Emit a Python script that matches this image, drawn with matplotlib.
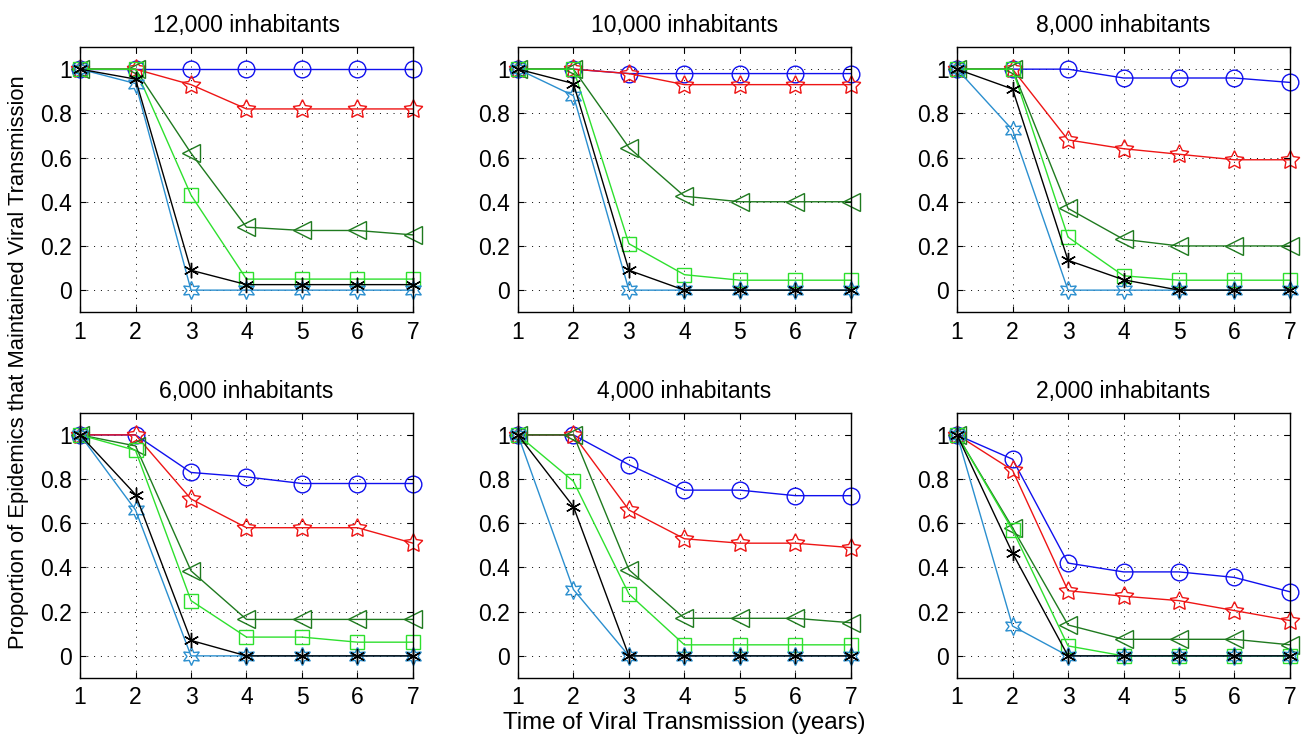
import matplotlib
matplotlib.use("Agg")
import matplotlib.pyplot as plt
import numpy as np

plt.rcParams['font.family'] = ['Liberation Sans', 'DejaVu Sans']

years = [1, 2, 3, 4, 5, 6, 7]
titles = ["12,000 inhabitants", "10,000 inhabitants", "8,000 inhabitants",
          "6,000 inhabitants", "4,000 inhabitants", "2,000 inhabitants"]

# one list per population size, series order: blue, red, dark green, lime, light blue, black
blue = [
    [1, 1, 1, 1, 1, 1, 1],
    [1, 1, 0.98, 0.98, 0.98, 0.98, 0.98],
    [1, 1, 1, 0.96, 0.96, 0.96, 0.94],
    [1, 1, 0.83, 0.81, 0.78, 0.78, 0.78],
    [1, 1, 0.865, 0.75, 0.75, 0.725, 0.725],
    [1, 0.89, 0.42, 0.38, 0.38, 0.355, 0.29],
]
red = [
    [1, 1, 0.93, 0.82, 0.82, 0.82, 0.82],
    [1, 1, 0.98, 0.93, 0.93, 0.93, 0.93],
    [1, 1, 0.68, 0.64, 0.615, 0.59, 0.59],
    [1, 1, 0.71, 0.58, 0.58, 0.58, 0.51],
    [1, 1, 0.66, 0.53, 0.51, 0.51, 0.49],
    [1, 0.84, 0.295, 0.27, 0.25, 0.205, 0.16],
]
dkgreen = [
    [1, 1, 0.62, 0.285, 0.27, 0.27, 0.25],
    [1, 1, 0.645, 0.425, 0.40, 0.40, 0.40],
    [1, 1, 0.37, 0.23, 0.20, 0.20, 0.20],
    [1, 0.95, 0.385, 0.165, 0.165, 0.165, 0.165],
    [1, 1, 0.39, 0.17, 0.17, 0.17, 0.15],
    [1, 0.58, 0.14, 0.075, 0.075, 0.075, 0.05],
]
lime = [
    [1, 1, 0.43, 0.05, 0.05, 0.05, 0.05],
    [1, 1, 0.21, 0.07, 0.045, 0.045, 0.045],
    [1, 1, 0.24, 0.065, 0.045, 0.045, 0.045],
    [1, 0.93, 0.25, 0.085, 0.085, 0.062, 0.062],
    [1, 0.79, 0.28, 0.05, 0.05, 0.05, 0.05],
    [1, 0.57, 0.045, 0, 0, 0, 0],
]
ltblue = [
    [1, 0.935, 0, 0, 0, 0, 0],
    [1, 0.88, 0, 0, 0, 0, 0],
    [1, 0.725, 0, 0, 0, 0, 0],
    [1, 0.66, 0, 0, 0, 0, 0],
    [1, 0.30, 0, 0, 0, 0, 0],
    [1, 0.135, 0, 0, 0, 0, 0],
]
black = [
    [1, 0.955, 0.09, 0.025, 0.025, 0.025, 0.025],
    [1, 0.935, 0.09, 0, 0, 0, 0],
    [1, 0.91, 0.135, 0.047, 0, 0, 0],
    [1, 0.73, 0.07, 0, 0, 0, 0],
    [1, 0.675, 0, 0, 0, 0, 0],
    [1, 0.465, 0, 0, 0, 0, 0],
]

styles = [
    (blue, '#1010ee', 'o', 12),
    (red, '#ee1515', (5, 1, 0), 14),
    (dkgreen, '#1f7a1f', '<', 13),
    (lime, '#2ee02e', 's', 10),
    (ltblue, '#2b8fcf', (6, 1, 0), 13),
    (black, '#000000', (6, 2, 0), 11),
]

fig = plt.figure(figsize=(13.08, 7.47), dpi=100)
lefts = [0.0612, 0.396, 0.7317]
bottoms = [0.582, 0.0924]
w = 0.2545
h = 0.355

for i in range(6):
    ax = fig.add_axes([lefts[i % 3], bottoms[i // 3], w, h])
    for data, col, mk, ms in styles:
        ax.plot(years, data[i], color=col, marker=mk, markersize=ms,
                mfc='none', mec=col, lw=1.0, mew=1.0, clip_on=False, zorder=3)
    ax.set_xlim(1, 7)
    ax.set_ylim(-0.1, 1.1)
    ax.set_xticks(years)
    ax.set_yticks([0, 0.2, 0.4, 0.6, 0.8, 1])
    ax.set_yticklabels(['0', '0.2', '0.4', '0.6', '0.8', '1'])
    ax.tick_params(direction='in', top=True, right=True, labelsize=16.5,
                   length=4, width=0.8, pad=6)
    ax.grid(True, color='k', linestyle=(0, (1, 6)), linewidth=0.7)
    for s in ax.spines.values():
        s.set_linewidth(1.0)
        s.set_zorder(4)
    ax.set_title(titles[i], fontsize=16.5, pad=11)
    if i == 4:
        ax.set_xlabel("Time of Viral Transmission (years)", fontsize=17.3, labelpad=2)

fig.text(0.014, 0.515, "Proportion of Epidemics that Maintained Viral Transmission",
         rotation=90, va='center', ha='center', fontsize=15.8)

fig.savefig("out.png", dpi=100)
